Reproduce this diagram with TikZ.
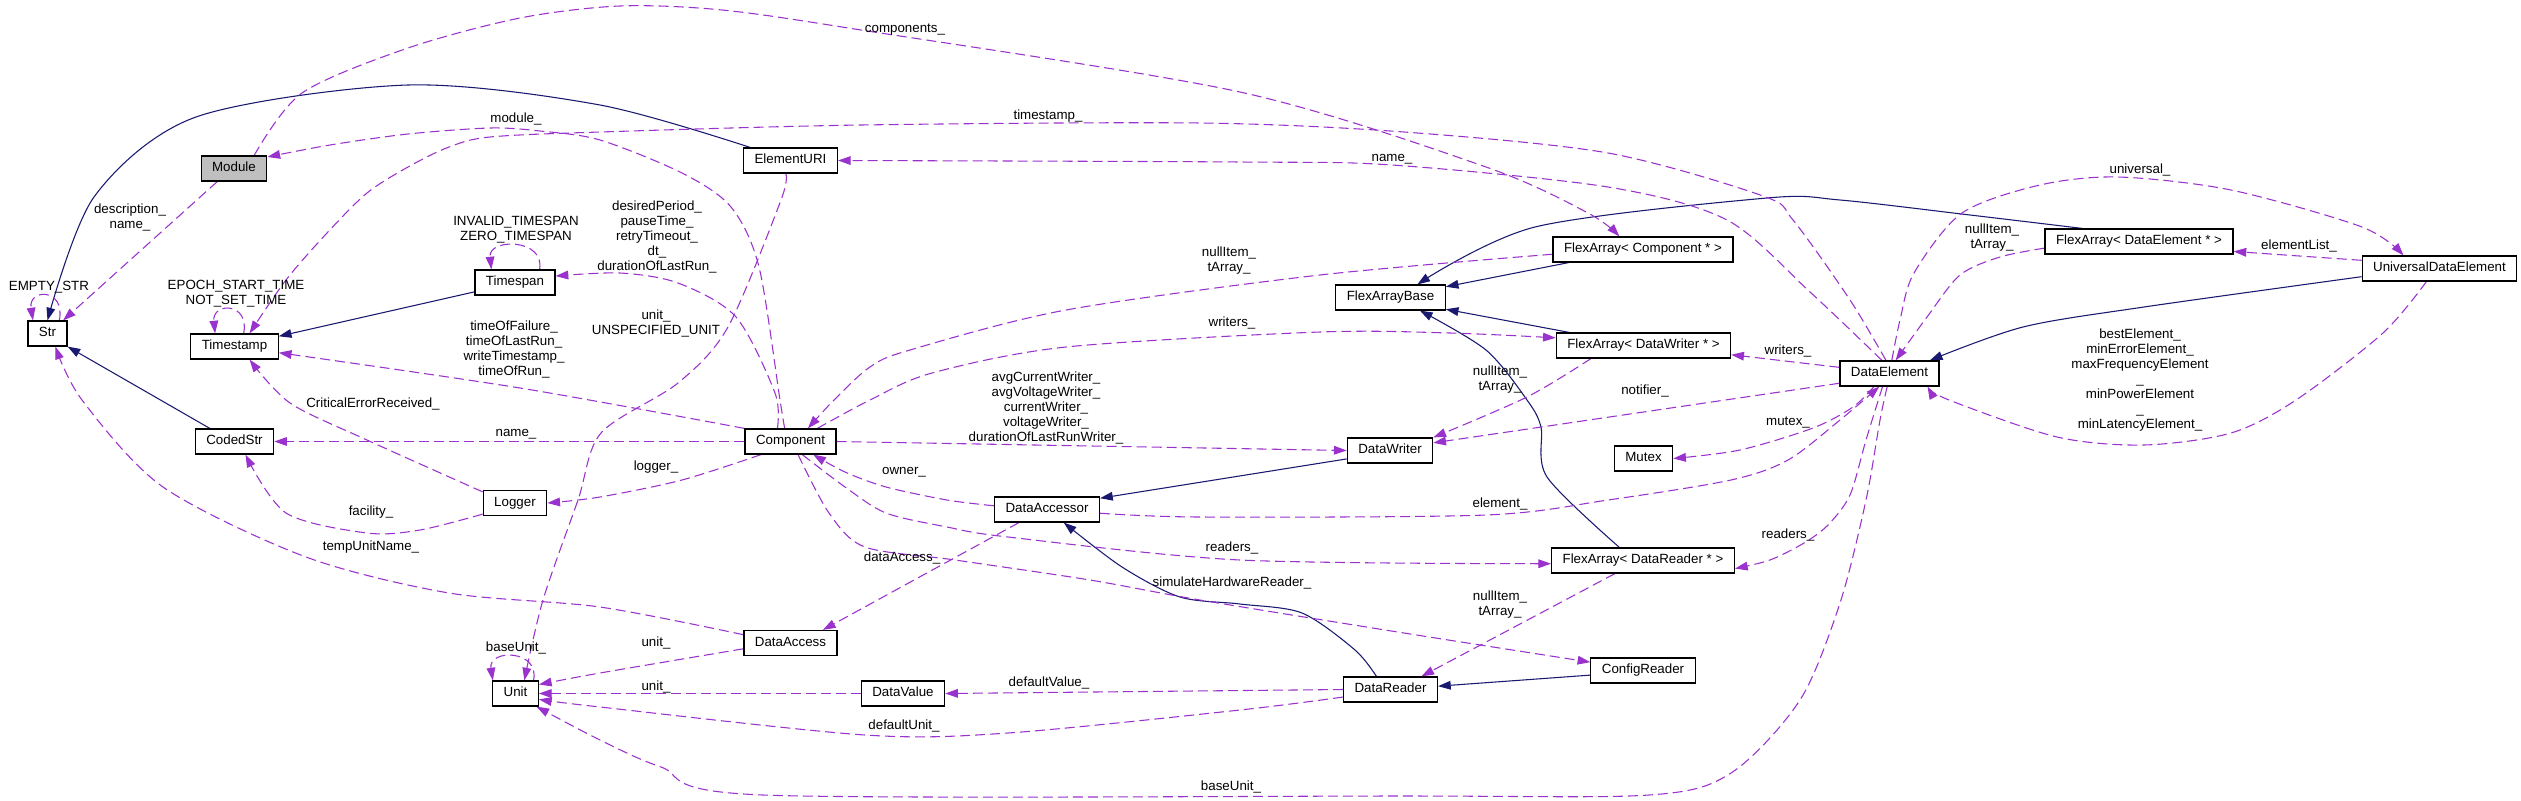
\documentclass[tikz,border=0pt]{standalone}
\usepackage{fontspec}
\setmainfont{Liberation Sans}
\usepackage{tikz}
\usetikzlibrary{arrows.meta, backgrounds}

\definecolor{usecol}{HTML}{9A32CD}
\definecolor{inhcol}{HTML}{191970}
\newcommand{\dgfont}{\fontsize{10}{11.25}\selectfont}

\begin{document}
\begin{tikzpicture}[x=0.75pt, y=-0.75pt,
    cls/.style={draw, line width=0.9pt, fill=white, inner xsep=8.25pt,
        inner ysep=0pt, minimum height=18.75pt, text height=7.2pt,
        text depth=2.1pt, font=\dgfont},
    root/.style={cls, fill=black!25},
    lbl/.style={align=center, inner sep=0pt, font=\dgfont},
    inherits/.style={inhcol, line width=0.8pt,
        -{Triangle[length=9.5pt, width=6.5pt]}},
    usage/.style={usecol, line width=0.8pt, dash pattern=on 7.5pt off 3.75pt,
        -{Triangle[length=9.5pt, width=6.5pt]}},
]
    \useasboundingbox (0,0) rectangle (2521,800);

    % Classes
    \node[root] (module) at (234,168.5) {Module};
    \node[cls] (str) at (47.5,333.5) {Str};
    \node[cls] (tstamp) at (234.5,346.5) {Timestamp};
    \node[cls] (tspan) at (515,282.5) {Timespan};
    \node[cls] (coded) at (234.5,441.5) {CodedStr};
    \node[cls] (logger) at (515,503) {Logger};
    \node[cls] (unit) at (515.5,693.5) {Unit};
    \node[cls] (uri) at (790.5,160.5) {ElementURI};
    \node[cls] (comp) at (790.5,441.5) {Component};
    \node[cls] (daccr) at (1047,509.5) {DataAccessor};
    \node[cls] (daccs) at (790.5,643) {DataAccess};
    \node[cls] (dvalue) at (903,693.5) {DataValue};
    \node[cls] (fbase) at (1390.5,297.5) {FlexArrayBase};
    \node[cls] (fcomp) at (1643,249.5) {FlexArray< Component * >};
    \node[cls] (fwriter) at (1643.5,345.5) {FlexArray< DataWriter * >};
    \node[cls] (writer) at (1390,450.5) {DataWriter};
    \node[cls] (mutex) at (1643.5,458.5) {Mutex};
    \node[cls] (freader) at (1643,560.5) {FlexArray< DataReader * >};
    \node[cls] (config) at (1643,670.5) {ConfigReader};
    \node[cls] (reader) at (1390.5,689.5) {DataReader};
    \node[cls] (delem) at (1889.5,373.5) {DataElement};
    \node[cls] (felem) at (2139,241.5) {FlexArray< DataElement * >};
    \node[cls] (udelem) at (2439.5,268.5) {UniversalDataElement};

    \begin{scope}[on background layer]
    \fill[white] (0,0) rectangle (2521,800);

    % Inheritance
    \draw[inherits] plot[smooth] coordinates {(uri.162) (600,105) (408,85)
        (196,117) (94,197) (str.north)};
    \draw[inherits] (tspan.-167) -- (tstamp.13);
    \draw[inherits] (coded.152) -- (str.south east);
    \draw[inherits] (fcomp.-170) -- (fbase.11);
    \draw[inherits] (fwriter.170) -- (fbase.-12);
    \draw[inherits] plot[smooth] coordinates {(felem.167) (1970,215)
        (1840,200) (1767,198) (1535,227) (fbase.26)};
    \draw[inherits] plot[smooth] coordinates {(freader.151) (1547,477)
        (1541,427) (1527,400) (1486,350) (fbase.-24)};
    \draw[inherits] (writer.-169) -- (daccr.12);
    \draw[inherits] plot[smooth] coordinates {(reader.137) (1355,650)
        (1302,613) (1240,604) (1180,597) (1122,567) (daccr.-38)};
    \draw[inherits] (config.-175) -- (reader.4);
    \draw[inherits] plot[smooth] coordinates {(udelem.-174) (2144,307)
        (2023,327) (delem.18)};

    % Members
    \draw[usage] plot[smooth] coordinates {(module.33) (302,93) (408,48)
        (520,18) (620,6) (722,10) (861,30) (1240,92) (1486,167) (1588,213)
        (fcomp.151)};
    \draw[usage] (module.-142) -- (str.40);
    \draw[usage] (str.48) .. controls (66,288) and (28,288) .. (str.138);
    \draw[usage] plot[smooth] coordinates {(comp.114) (780,400) (759,267)
        (731,207) (682,173) (600,140) (540,131) (490,128) (408,134)
        (330,145) (module.19)};
    \draw[usage] plot[smooth] coordinates {(delem.105) (1850,300) (1793,220)
        (1763,196) (1608,153) (1404,132) (1200,123) (861,125) (600,132)
        (490,137) (449,147) (408,167) (367,193) (327,233) (286,280)
        (tstamp.41)};
    \draw[usage] plot[smooth] coordinates {(delem.120) (1810,292) (1727,220)
        (1608,187) (1392,165) (1240,162) (uri.east)};
    \draw[usage] plot[smooth] coordinates {(comp.135) (775,393) (736,317)
        (678,283) (620,273) (tspan.9)};
    \draw[usage] plot[smooth] coordinates {(comp.north west) (520,388)
        (tstamp.-8)};
    \draw[usage] (tstamp.55) .. controls (250,302) and (212,302) .. (tstamp.146);
    \draw[usage] (tspan.28) .. controls (545,238) and (488,238) .. (tspan.151);
    \draw[usage] plot[smooth] coordinates {(logger.161) (367,440) (290,403)
        (tstamp.-41)};
    \draw[usage] (comp.west) -- (coded.east);
    \draw[usage] plot[smooth] coordinates {(comp.-156) (682,480) (600,497)
        (logger.east)};
    \draw[usage] plot[smooth] coordinates {(logger.-161) (420,530) (367,533)
        (286,513) (coded.-50)};
    \draw[usage] plot[smooth] coordinates {(daccs.170) (600,607) (449,593)
        (306,557) (163,487) (82,400) (str.-59)};
    \draw[usage] plot[smooth] coordinates {(daccs.-173) (600,673) (unit.21)};
    \draw[usage] (dvalue.west) -- (unit.east);
    \draw[usage] plot[smooth] coordinates {(reader.-171) (1240,710) (1008,733)
        (865,735) (600,707) (unit.-14)};
    \draw[usage] (reader.west) -- (dvalue.east);
    \draw[usage] (unit.36) .. controls (540,649) and (488,649) .. (unit.150);
    \draw[usage] plot[smooth] coordinates {(uri.-110) (781,200) (728,327)
        (678,383) (601,433) (578,500) (543,600) (unit.56)};
    \draw[usage] plot[smooth] coordinates {(delem.-100) (1880,420) (1866,500)
        (1840,603) (1800,700) (1731,773) (1649,795) (1400,796) (763,795)
        (661,767) (600,740) (unit.-32)};
    \draw[usage] plot[smooth] coordinates {(daccr.176) (947,500) (886,487)
        (845,472) (comp.-30)};
    \draw[usage] (daccr.-155) -- (daccs.22);
    \draw[usage] plot[smooth] coordinates {(daccr.-4) (1200,517) (1486,515)
        (1608,500) (1731,480) (1788,460) (1840,420) (delem.-128)};
    \draw[usage] plot[smooth] coordinates {(delem.-140) (1853,407) (1813,428)
        (1740,450) (mutex.east)};
    \draw[usage] plot[smooth] coordinates {(delem.-118) (1866,440) (1850,495)
        (1828,525) (1804,543) (1770,560) (freader.-5)};
    \draw[usage] (delem.173) -- (fwriter.-6);
    \draw[usage] (delem.-169) -- (writer.10);
    \draw[usage] plot[smooth] coordinates {(fwriter.-166) (1527,397)
        (writer.north east)};
    \draw[usage] (freader.-155) -- (reader.23);
    \draw[usage] plot[smooth] coordinates {(fcomp.-177) (1320,275) (1066,310)
        (910,350) (870,367) (834,400) (comp.37)};
    \draw[usage] plot[smooth] coordinates {(comp.26) (870,400) (932,373)
        (1066,347) (1320,332) (1450,333) (fwriter.175)};
    \draw[usage] (comp.east) -- (writer.west);
    \draw[usage] plot[smooth] coordinates {(comp.-48) (845,487) (886,513)
        (947,527) (1008,537) (1240,560) (freader.-178)};
    \draw[usage] plot[smooth] coordinates {(comp.-60) (829,513) (865,547)
        (955,560) (1090,580) (1200,600) (1404,633) (config.171)};
    \draw[usage] plot[smooth] coordinates {(delem.80) (1900,320) (1914,273)
        (1962,213) (2040,185) (2118,177) (2231,190) (2362,227) (udelem.160)};
    \draw[usage] plot[smooth] coordinates {(felem.-176) (2000,257) (1960,275)
        (1927,317) (delem.65)};
    \draw[usage] (udelem.174) -- (felem.-6);
    \draw[usage] plot[smooth] coordinates {(udelem.-135) (2383,333) (2296,400)
        (2231,433) (2144,445) (2057,437) (1949,400) (delem.-19)};
    \end{scope}

    % Member names
    \node[lbl] (t-components) at (905,30) {components\_};
    \node[lbl] (t-descname) at (130,217) {description\_\\name\_};
    \node[lbl] (t-emptystr) at (49,287) {EMPTY\_STR};
    \node[lbl] (t-module) at (516,119) {module\_};
    \node[lbl] (t-timestamp) at (1048,116) {timestamp\_};
    \node[lbl] (t-uriname) at (1392,159) {name\_};
    \node[lbl] (t-spanconst) at (516,230) {INVALID\_TIMESPAN\\ZERO\_TIMESPAN};
    \node[lbl] (t-stampconst) at (236,294) {EPOCH\_START\_TIME\\NOT\_SET\_TIME};
    \node[lbl] (t-spans) at (657,237)
        {desiredPeriod\_\\pauseTime\_\\retryTimeout\_\\dt\_\\durationOfLastRun\_};
    \node[lbl] (t-stamps) at (514,349)
        {timeOfFailure\_\\timeOfLastRun\_\\writeTimestamp\_\\timeOfRun\_};
    \node[lbl] (t-uriunit) at (656,323) {unit\_\\UNSPECIFIED\_UNIT};
    \node[lbl] (t-compitems) at (1229,261) {nullItem\_\\tArray\_};
    \node[lbl] (t-compwriters) at (1232,323) {writers\_};
    \node[lbl] (t-writeritems) at (1500,380) {nullItem\_\\tArray\_};
    \node[lbl] (t-elemwriters) at (1788,351) {writers\_};
    \node[lbl] (t-notifier) at (1645,391) {notifier\_};
    \node[lbl] (t-elemitems) at (1992,238) {nullItem\_\\tArray\_};
    \node[lbl] (t-universal) at (2140,170) {universal\_};
    \node[lbl] (t-elemlist) at (2299,246) {elementList\_};
    \node[lbl] (t-best) at (2140,380)
        {bestElement\_\\minErrorElement\_\\maxFrequencyElement\\\_\\minPowerElement\\\_\\minLatencyElement\_};
    \node[lbl] (t-writers) at (1046,408)
        {avgCurrentWriter\_\\avgVoltageWriter\_\\currentWriter\_\\voltageWriter\_\\durationOfLastRunWriter\_};
    \node[lbl] (t-critical) at (373,404) {CriticalErrorReceived\_};
    \node[lbl] (t-compname) at (516,434) {name\_};
    \node[lbl] (t-logger) at (656,467) {logger\_};
    \node[lbl] (t-owner) at (904,472) {owner\_};
    \node[lbl] (t-facility) at (371,512) {facility\_};
    \node[lbl] (t-mutex) at (1788,423) {mutex\_};
    \node[lbl] (t-element) at (1500,504) {element\_};
    \node[lbl] (t-elemreaders) at (1788,535) {readers\_};
    \node[lbl] (t-compreaders) at (1232,548) {readers\_};
    \node[lbl] (t-tempunit) at (371,547) {tempUnitName\_};
    \node[lbl] (t-dataaccess) at (902,558) {dataAccess\_};
    \node[lbl] (t-simreader) at (1232,583) {simulateHardwareReader\_};
    \node[lbl] (t-readeritems) at (1500,605) {nullItem\_\\tArray\_};
    \node[lbl] (t-unitloop) at (516,648) {baseUnit\_};
    \node[lbl] (t-accessunit) at (656,643) {unit\_};
    \node[lbl] (t-defvalue) at (1049,683) {defaultValue\_};
    \node[lbl] (t-valueunit) at (656,687) {unit\_};
    \node[lbl] (t-defunit) at (904,726) {defaultUnit\_};
    \node[lbl] (t-baseunit) at (1231,787) {baseUnit\_};
\end{tikzpicture}
\end{document}
